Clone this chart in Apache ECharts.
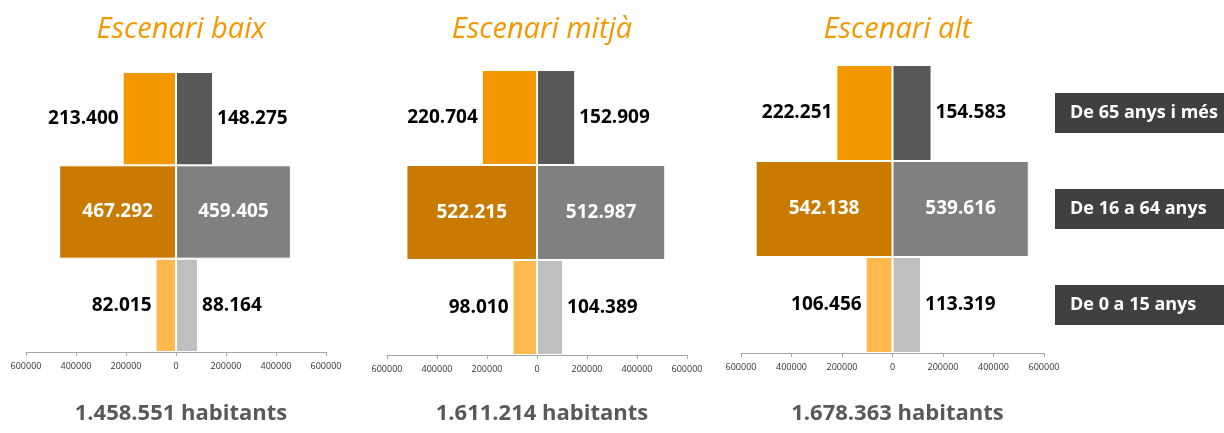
<!DOCTYPE html>
<html>
<head>
<meta charset="utf-8">
<script src="https://cdn.jsdelivr.net/npm/echarts@6/dist/echarts.min.js"></script>
<style>
  html, body { margin: 0; padding: 0; background: #fff; }
  #chart { width: 1224px; height: 433px; }
</style>
</head>
<body>
<div id="chart"></div>
<script>
// age groups, bottom to top
var categories = ['De 0 a 15 anys', 'De 16 a 64 anys', 'De 65 anys i més'];
var scenarios = ['Escenari baix', 'Escenari mitjà', 'Escenari alt'];
var totals = ['1.458.551 habitants', '1.611.214 habitants', '1.678.363 habitants'];

// left side (orange) and right side (grey), per scenario
var leftBaix = [82015, 467292, 213400];
var rightBaix = [88164, 459405, 148275];
var leftMitja = [98010, 522215, 220704];
var rightMitja = [104389, 512987, 152909];
var leftAlt = [106456, 542138, 222251];
var rightAlt = [113319, 539616, 154583];

var leftColors = ['#FFB94F', '#C97B00', '#F39800'];
var rightColors = ['#BFBFBF', '#808080', '#58585A'];

var panels = [
    { left: leftBaix, right: rightBaix, x: 26, w: 300, top: 72, bottom: 352 },
    { left: leftMitja, right: rightMitja, x: 387, w: 300, top: 70, bottom: 355 },
    { left: leftAlt, right: rightAlt, x: 741, w: 303, top: 65, bottom: 353 }
];

function fmt(v) {
    return String(Math.abs(v)).replace(/\B(?=(\d{3})+(?!\d))/g, '.');
}

var labelFont = '"Open Sans", "Noto Sans", sans-serif';

function makeItems(vals, colors, side) {
    return vals.map(function (v, i) {
        var inside = i === 1;
        return {
            value: side === 'left' ? -v : v,
            itemStyle: { color: colors[i] },
            label: {
                show: true,
                position: inside ? 'inside' : side,
                distance: 4,
                color: inside ? '#fff' : '#000',
                fontSize: 19,
                fontWeight: 'bold',
                fontFamily: labelFont,
                formatter: function (p) { return fmt(p.value); }
            }
        };
    });
}

var grids = [], xAxes = [], yAxes = [], series = [], titles = [];

panels.forEach(function (p, k) {
    grids.push({
        left: p.x, width: p.w, top: p.top, height: p.bottom - p.top,
        containLabel: false, outerBoundsMode: 'none'
    });
    xAxes.push({
        gridIndex: k,
        type: 'value',
        min: -600000,
        max: 600000,
        interval: 200000,
        splitLine: { show: false },
        axisLine: { show: true, lineStyle: { color: '#A6A6A6' } },
        axisTick: { show: true, length: 4, lineStyle: { color: '#A6A6A6' } },
        axisLabel: {
            color: '#333',
            fontSize: 9,
            fontFamily: labelFont,
            margin: 10,
            formatter: function (v) { return String(Math.abs(v)); }
        }
    });
    var isLast = k === panels.length - 1;
    yAxes.push({
        gridIndex: k,
        type: 'category',
        data: categories,
        position: 'right',
        axisLine: { show: false },
        axisTick: { show: false },
        axisLabel: isLast ? {
            show: true,
            margin: 11,
            color: '#fff',
            fontSize: 18,
            fontWeight: 'bold',
            fontFamily: labelFont,
            backgroundColor: '#404040',
            width: 160,
            padding: [9, 10, 9, 15],
            lineHeight: 22
        } : { show: false }
    });
    series.push({
        type: 'bar',
        name: scenarios[k] + ' L',
        xAxisIndex: k,
        yAxisIndex: k,
        stack: 'p' + k,
        barCategoryGap: '0%',
        itemStyle: { borderColor: '#fff', borderWidth: 1 },
        data: makeItems(p.left, leftColors, 'left')
    });
    series.push({
        type: 'bar',
        name: scenarios[k] + ' R',
        xAxisIndex: k,
        yAxisIndex: k,
        stack: 'p' + k,
        barCategoryGap: '0%',
        itemStyle: { borderColor: '#fff', borderWidth: 1 },
        data: makeItems(p.right, rightColors, 'right')
    });
    var cx = p.x + p.w / 2;
    titles.push({
        text: scenarios[k],
        left: cx,
        top: 10,
        textAlign: 'center',
        textStyle: { color: '#F39800', fontSize: 29, fontStyle: 'italic', fontWeight: 'normal', fontFamily: labelFont }
    });
    titles.push({
        text: totals[k],
        left: cx,
        top: 398,
        textAlign: 'center',
        textStyle: { color: '#595959', fontSize: 22, fontWeight: 'bold', fontFamily: labelFont }
    });
});

var chart = echarts.init(document.getElementById('chart'));
chart.setOption({
    animation: false,
    title: titles,
    grid: grids,
    xAxis: xAxes,
    yAxis: yAxes,
    series: series
});
</script>
</body>
</html>
